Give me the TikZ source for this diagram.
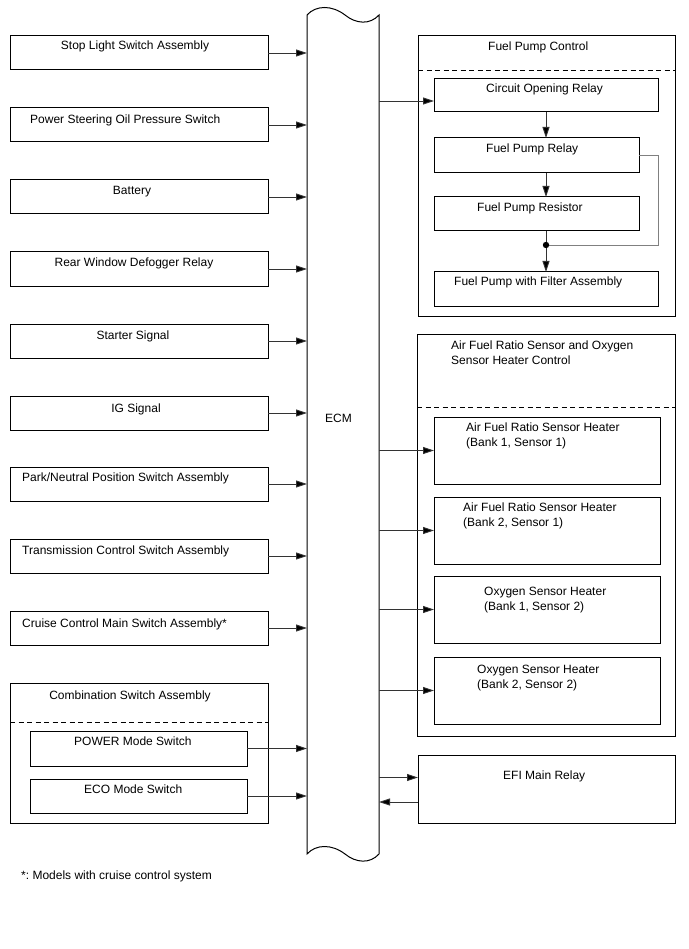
\documentclass[tikz,border=0pt]{standalone}
\usepackage{fontspec}
\setmainfont{Liberation Sans}
\usetikzlibrary{arrows.meta,positioning,calc}

\begin{document}
\frenchspacing
\begin{tikzpicture}[x=1pt,y=-1pt,
  box/.style={draw=black,line width=1pt,inner sep=0pt,outer sep=0pt,anchor=north west},
  lbl/.style={inner sep=0pt,font=\fontsize{12}{15}\selectfont},
  conn/.style={draw=black!80,line width=0.9pt,-{Triangle[length=11pt,width=7pt,fill=black]}},
  fb/.style={draw=black!50,line width=0.9pt},
  sep/.style={draw=black,line width=0.9pt,dash pattern=on 5pt off 3.5pt}]
  \useasboundingbox (0,0) rectangle (688,949);

  % ECM
  \node[inner sep=0pt,outer sep=0pt,minimum width=72,minimum height=839,anchor=north west] (ecm) at (307,15) {};
  \draw[line width=1pt] (307,15) .. controls (316,5) and (332,5) .. (345,15)
    .. controls (356,24) and (370,25) .. (379,15) -- (379,854)
    .. controls (370,864) and (356,863) .. (345,854)
    .. controls (332,844) and (316,844) .. (307,854) -- cycle;
  \node[lbl,anchor=base west] (ecm-t) at (325,422) {ECM};

  % inputs
  \foreach \n/\yy/\lx/\bl/\anc/\txt in {
    stop/36/135/50/base/{Stop Light Switch Assembly},
    pwr/108/30/124/base west/{Power Steering Oil Pressure Switch},
    bat/180/132/195/base/{Battery},
    rwd/252/134/267/base/{Rear Window Defogger Relay},
    sta/324/133/339/base/{Starter Signal},
    ig/396/136/412/base/{IG Signal},
    pnp/467/22/481/base west/{Park/Neutral Position Switch Assembly},
    tcs/539/22/554/base west/{Transmission Control Switch Assembly},
    ccs/611/22/627/base west/{Cruise Control Main Switch Assembly*}}
  {
    \node[box,minimum width=258,minimum height=34] (\n) at (10,\yy) {};
    \node[lbl,anchor=\anc] (\n-t) at (\lx,\bl) {\txt};
    \draw[conn] (\n.east) -- (\n.east -| ecm.west);
  }

  % combination switch
  \node[box,minimum width=258,minimum height=140] (csa) at (10,683) {};
  \node[lbl,anchor=base] (csa-t) at (130,699) {Combination Switch Assembly};
  \draw[sep] ([yshift=-39]csa.north west) -- ([yshift=-39]csa.north east);
  \node[box,minimum width=217,minimum height=35] (pms) at (30,731) {};
  \node[lbl,anchor=base west] (pms-t) at (74,745) {POWER Mode Switch};
  \node[box,minimum width=217,minimum height=34] (ems) at (30,779) {};
  \node[lbl,anchor=base west] (ems-t) at (84,793) {ECO Mode Switch};
  \foreach \n in {pms,ems}
    \draw[conn] (\n.east) -- (\n.east -| ecm.west);

  % fuel pump control
  \node[box,minimum width=257,minimum height=280] (fpc) at (418,36) {};
  \node[lbl,anchor=base west] (fpc-t) at (488,51) {Fuel Pump Control};
  \draw[sep] ([yshift=-34]fpc.north west) -- ([yshift=-34]fpc.north east);
  \node[box,minimum width=224,minimum height=33] (cor) at (434,79) {};
  \node[lbl,anchor=base west] (cor-t) at (486,93) {Circuit Opening Relay};
  \node[box,minimum width=205,minimum height=35] (fpr) at (434,138) {};
  \node[lbl,anchor=base west] (fpr-t) at (486,153) {Fuel Pump Relay};
  \node[box,minimum width=205,minimum height=34] (fps) at (434,197) {};
  \node[lbl,anchor=base west] (fps-t) at (477,212) {Fuel Pump Resistor};
  \node[box,minimum width=224,minimum height=34] (fpf) at (434,272) {};
  \node[lbl,anchor=base west] (fpf-t) at (454,285) {Fuel Pump with Filter Assembly};
  \coordinate (jct) at (546,245);
  \draw[conn] ([yshift=-5.5]cor.west -| ecm.east) -- ([yshift=-5.5]cor.west);
  \draw[conn] (cor.south) -- (cor.south |- fpr.north);
  \draw[conn] (cor.south |- fpr.south) -- (cor.south |- fps.north);
  \draw[fb] (fpr.east) -- ++(19,0) |- (jct);
  \draw[conn] (cor.south |- fps.south) -- (cor.south |- fpf.north);
  \fill (jct) circle (3.2);

  % air fuel ratio / oxygen sensor heaters
  \node[box,minimum width=258,minimum height=402] (afc) at (417,334) {};
  \node[lbl,anchor=base west] (afc-t1) at (451,349) {Air Fuel Ratio Sensor and Oxygen};
  \node[lbl,anchor=base west] (afc-t2) at (451,364) {Sensor Heater Control};
  \draw[sep] ([yshift=-73]afc.north west) -- ([yshift=-73]afc.north east);
  \foreach \n/\yy/\lx/\bl/\linea/\lineb in {
    afs1/417/466/431/{Air Fuel Ratio Sensor Heater}/{(Bank 1, Sensor 1)},
    afs2/497/463/511/{Air Fuel Ratio Sensor Heater}/{(Bank 2, Sensor 1)},
    oxs1/576/484/595/{Oxygen Sensor Heater}/{(Bank 1, Sensor 2)},
    oxs2/657/477/673/{Oxygen Sensor Heater}/{(Bank 2, Sensor 2)}}
  {
    \node[box,minimum width=226,minimum height=67] (\n) at (434,\yy) {};
    \node[lbl,anchor=base west] (\n-t1) at (\lx,\bl) {\linea};
    \node[lbl,anchor=base west] (\n-t2) at (\lx,\bl+15.5) {\lineb};
    \draw[conn] (\n.west -| ecm.east) -- (\n.west);
  }

  % EFI main relay
  \node[box,minimum width=257,minimum height=68] (efi) at (418,755) {};
  \node[lbl,anchor=base west] (efi-t) at (503,779) {EFI Main Relay};
  \draw[conn] ([yshift=11.5]efi.west -| ecm.east) -- ([yshift=11.5]efi.west);
  \draw[conn] ([yshift=-13]efi.west) -- ([yshift=-13]efi.west -| ecm.east);

  \node[lbl,anchor=base west] (note) at (21,879) {*: Models with cruise control system};
\end{tikzpicture}
\end{document}
